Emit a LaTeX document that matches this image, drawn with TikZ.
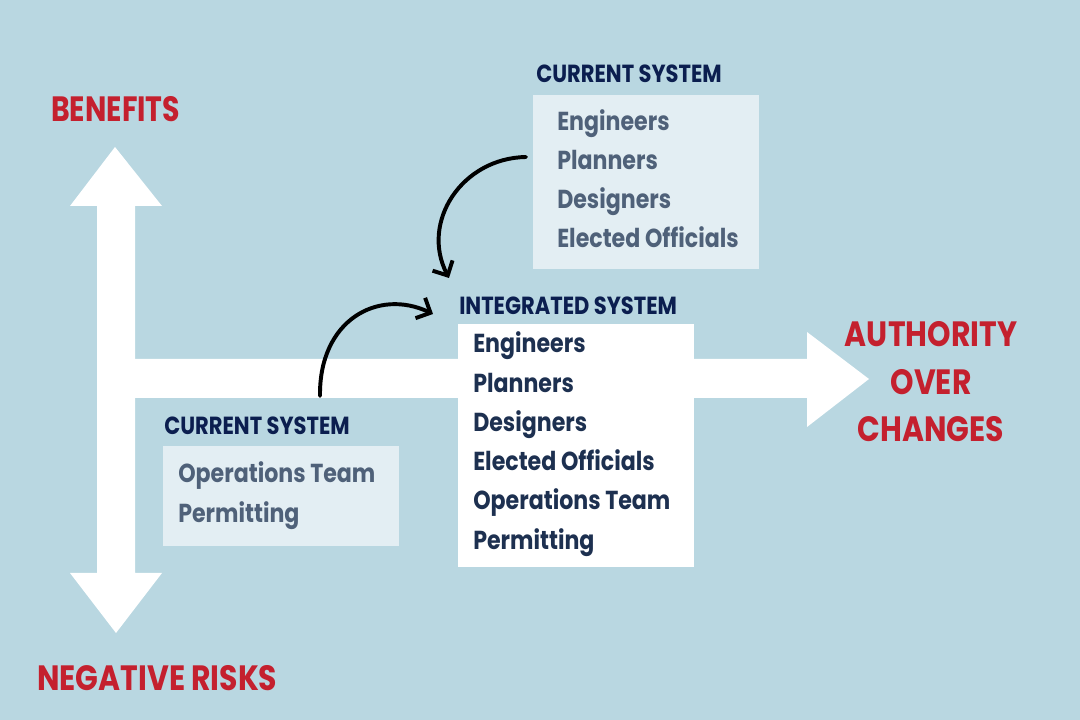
\documentclass[tikz,border=0pt]{standalone}
\usepackage{fontspec}
\setmainfont{Poppins}[FakeStretch=0.85]
\usetikzlibrary{arrows.meta}
\definecolor{bgblue}{HTML}{B9D7E1}
\definecolor{lightbox}{HTML}{E3EEF3}
\definecolor{navy}{HTML}{0B1E4F}
\definecolor{slate}{HTML}{4F6179}
\definecolor{darkslate}{HTML}{1D3050}
\definecolor{redlab}{HTML}{C4202E}
\tikzset{
  boxlight/.style={fill=lightbox, draw=none},
  boxwhite/.style={fill=white, draw=none},
  title/.style={anchor=base west, inner sep=0pt, text=navy, font=\bfseries\fontsize{17.6}{19}\selectfont},
  itemlight/.style={anchor=base west, inner sep=0pt, text=slate, font=\bfseries\fontsize{18.5}{20}\selectfont},
  itemdark/.style={anchor=base west, inner sep=0pt, text=darkslate, font=\bfseries\fontsize{18.5}{20}\selectfont},
  redlabel/.style={inner sep=0pt, text=redlab, font=\bfseries\fontsize{25}{28}\selectfont},
  curvearrow/.style={line width=2.8pt, line cap=round, -{Straight Barb[length=8pt,width=16pt,line width=2.8pt]}},
}
\begin{document}
\begin{tikzpicture}[x=0.025cm, y=-0.025cm]
\useasboundingbox (0,0) rectangle (1080,720);
\fill[bgblue] (0,0) rectangle (1080,720);
% axes
\fill[white] (115,147) -- (162,206) -- (135,206) -- (135,573) -- (162,573) -- (116,633)
  -- (70,573) -- (97,573) -- (97,206) -- (70,206) -- cycle;
\fill[white] (134,359) -- (807,359) -- (807,332) -- (869,379) -- (807,427) -- (807,398) -- (134,398) -- cycle;
% boxes
\fill[boxlight] (533,95) rectangle (759,269);
\fill[boxwhite] (458,324) rectangle (694,567);
\fill[boxlight] (163,446) rectangle (399,546);
% titles
\node[title] (t1) at (536,83) {CURRENT SYSTEM};
\node[title] (t2) at (459,315) {INTEGRATED SYSTEM};
\node[title] (t3) at (164,435) {CURRENT SYSTEM};
% top box items
\node[itemlight] (a1) at (557,131) {Engineers};
\node[itemlight] (a2) at (557,170) {Planners};
\node[itemlight] (a3) at (557,209) {Designers};
\node[itemlight] (a4) at (557,248) {Elected Officials};
% integrated items
\node[itemdark] (b1) at (473,353) {Engineers};
\node[itemdark] (b2) at (473,393) {Planners};
\node[itemdark] (b3) at (473,432) {Designers};
\node[itemdark] (b4) at (473,471) {Elected Officials};
\node[itemdark] (b5) at (473,510) {Operations Team};
\node[itemdark] (b6) at (473,550) {Permitting};
% bottom box items
\node[itemlight] (c1) at (178,483) {Operations Team};
\node[itemlight] (c2) at (178,523) {Permitting};
% red labels
\node[redlabel, anchor=base west, xscale=0.95] (ben) at (51,122) {BENEFITS};
\node[redlabel, anchor=base west] (neg) at (37,691) {NEGATIVE RISKS};
\node[redlabel, anchor=base] (au1) at (931,347) {AUTHORITY};
\node[redlabel, anchor=base] (au2) at (931,395) {OVER};
\node[redlabel, anchor=base] (au3) at (931,442) {CHANGES};
% curved arrows
\coordinate (s1) at (320,396);
\coordinate (e1) at (433,314);
\coordinate (s2) at (526,157);
\coordinate (e2) at (449,278);
\draw[curvearrow] (s1) .. controls (319,320) and (378,288) .. (e1);
\draw[curvearrow] (s2) .. controls (462,158) and (420,222) .. (e2);
\end{tikzpicture}
\end{document}
